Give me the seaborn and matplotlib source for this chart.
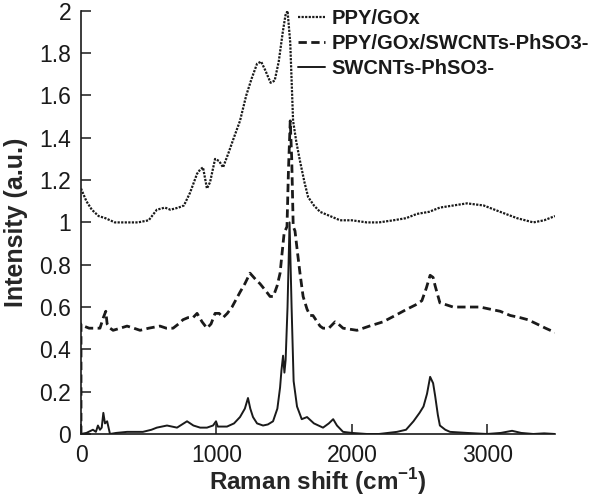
#%%
# Librerías
# -----------------------------------------------------------------------
import pandas as pd
import seaborn as sns
import matplotlib
matplotlib.use("Agg")
import matplotlib.pyplot as plt
from matplotlib.ticker import FuncFormatter

#%%
# Datos leídos del espectro Raman
# -----------------------------------------------------------------------
labels = ["PPY/GOx", "PPY/GOx/SWCNTs-PhSO3-", "SWCNTs-PhSO3-"]

ppy_x = [0, 40, 80, 130, 180, 250, 330, 420, 500, 560,
         620, 660, 720, 760, 805, 857, 880, 901, 930, 953,
         990, 1020, 1049, 1090, 1123, 1174, 1220, 1260, 1300, 1330,
         1360, 1400, 1430, 1460, 1490, 1510, 1525, 1545, 1566, 1590,
         1617, 1650, 1677, 1720, 1765, 1839, 1913, 2000, 2110, 2200,
         2307, 2400, 2480, 2570, 2650, 2750, 2850, 2973, 3095, 3220,
         3340, 3420, 3500]
ppy_y = [1.16, 1.10, 1.06, 1.03, 1.02, 1.00, 1.00, 1.00, 1.01, 1.06,
         1.07, 1.06, 1.07, 1.08, 1.14, 1.23, 1.25, 1.26, 1.16, 1.19,
         1.30, 1.29, 1.26, 1.33, 1.39, 1.48, 1.60, 1.68, 1.75, 1.76,
         1.72, 1.66, 1.67, 1.76, 1.90, 1.98, 2.00, 1.85, 1.48, 1.38,
         1.29, 1.19, 1.12, 1.08, 1.05, 1.03, 1.01, 1.01, 1.00, 1.00,
         1.01, 1.02, 1.04, 1.05, 1.07, 1.08, 1.09, 1.08, 1.05, 1.02,
         1.00, 1.01, 1.03]

mix_x = [0, 0, 20, 60, 100, 140, 165, 183, 193, 215,
         237, 290, 340, 390, 436, 500, 583, 630, 680, 720,
         753, 790, 827, 857, 894, 930, 960, 990, 1020, 1049,
         1080, 1115, 1174, 1210, 1248, 1290, 1322, 1360, 1396, 1420,
         1448, 1470, 1484, 1500, 1521, 1532, 1545, 1556, 1567, 1580,
         1600, 1617, 1640, 1669, 1691, 1713, 1765, 1787, 1830, 1876,
         1900, 1935, 2038, 2130, 2230, 2320, 2407, 2470, 2517, 2550,
         2578, 2600, 2615, 2650, 2700, 2748, 2850, 2947, 3020, 3095,
         3170, 3242, 3300, 3366, 3430, 3500]
mix_y = [0.0, 0.52, 0.51, 0.50, 0.50, 0.50, 0.55, 0.58, 0.52, 0.50,
         0.49, 0.50, 0.51, 0.50, 0.49, 0.50, 0.51, 0.50, 0.50, 0.52,
         0.54, 0.55, 0.55, 0.57, 0.53, 0.50, 0.52, 0.57, 0.57, 0.55,
         0.57, 0.60, 0.67, 0.71, 0.76, 0.73, 0.71, 0.68, 0.65, 0.65,
         0.70, 0.76, 0.85, 0.95, 0.98, 1.25, 1.48, 1.30, 0.98, 0.96,
         0.85, 0.76, 0.65, 0.59, 0.56, 0.56, 0.51, 0.50, 0.50, 0.53,
         0.52, 0.50, 0.49, 0.51, 0.53, 0.56, 0.59, 0.61, 0.63, 0.69,
         0.75, 0.74, 0.70, 0.62, 0.61, 0.60, 0.60, 0.60, 0.59, 0.58,
         0.56, 0.55, 0.54, 0.52, 0.50, 0.48]

swcnt_x = [0, 40, 88, 110, 125, 140, 153, 165, 177, 193,
           214, 260, 340, 400, 457, 520, 560, 635, 709, 783,
           830, 880, 930, 975, 997, 1010, 1078, 1130, 1174, 1210,
           1233, 1250, 1270, 1300, 1344, 1380, 1418, 1450, 1470, 1480,
           1492, 1502, 1511, 1525, 1540, 1555, 1570, 1595, 1630, 1669,
           1720, 1787, 1830, 1862, 1890, 1935, 2000, 2110, 2200, 2333,
           2400, 2455, 2500, 2529, 2555, 2578, 2600, 2615, 2635, 2650,
           2690, 2725, 2850, 2998, 3100, 3183, 3250, 3340, 3420, 3500]
swcnt_y = [0.0, 0.005, 0.02, 0.01, 0.04, 0.02, 0.03, 0.10, 0.05, 0.06,
           0.0, 0.005, 0.01, 0.01, 0.01, 0.02, 0.03, 0.04, 0.03, 0.06,
           0.04, 0.03, 0.03, 0.04, 0.06, 0.035, 0.035, 0.05, 0.08, 0.12,
           0.17, 0.12, 0.08, 0.05, 0.04, 0.045, 0.06, 0.12, 0.22, 0.30,
           0.37, 0.29, 0.35, 0.60, 1.00, 0.60, 0.25, 0.13, 0.07, 0.08,
           0.05, 0.03, 0.05, 0.07, 0.04, 0.01, 0.005, 0.0, 0.0, 0.01,
           0.02, 0.06, 0.10, 0.13, 0.19, 0.27, 0.24, 0.18, 0.09, 0.04,
           0.02, 0.01, 0.005, 0.0, 0.005, 0.015, 0.005, 0.0, 0.003, 0.0]

x_ticks = [0, 1000, 2000, 3000]
y_ticks = [0, 0.2, 0.4, 0.6, 0.8, 1, 1.2, 1.4, 1.6, 1.8, 2]

#%%
# Configuración de estilo
# -----------------------------------------------------------------------
sns.set_style("ticks")
plt.rcParams["font.family"] = ["Liberation Sans", "DejaVu Sans"]
plt.rcParams["xtick.direction"] = "in"
plt.rcParams["ytick.direction"] = "in"

series = [
    (ppy_x, ppy_y, (0, (1, 0.6)), 1.6),
    (mix_x, mix_y, (0, (3, 1.6)), 2.0),
    (swcnt_x, swcnt_y, "-", 1.4),
]

fig = plt.figure(figsize=(6, 4.99), dpi=100)
ax = fig.add_axes([0.135, 0.1303, 0.79, 0.848])

for (xs, ys, ls, lw), lab in zip(series, labels):
    df = pd.DataFrame({"shift": xs, "intensity": ys})
    sns.lineplot(data=df, x="shift", y="intensity", ax=ax, color="#1a1a1a",
                 linestyle=ls, linewidth=lw, estimator=None, sort=False, label=lab)

#%%
# Ejes, etiquetas y leyenda
# -----------------------------------------------------------------------
ax.set_xlim(0, 3500)
ax.set_ylim(0, 2)
ax.set_xticks(x_ticks)
ax.set_yticks(y_ticks)
ax.yaxis.set_major_formatter(FuncFormatter(lambda v, p: f"{v:g}"))
ax.tick_params(axis="both", labelsize=16.5, length=7, width=1.1, pad=7, colors="#1a1a1a")
for side in ["left", "bottom"]:
    ax.spines[side].set_linewidth(1.2)
    ax.spines[side].set_color("#1a1a1a")
sns.despine(ax=ax)

ax.set_xlabel("Raman shift (cm$^{\\mathregular{-1}}$)", fontsize=17.5, fontweight="bold")
ax.set_ylabel("Intensity (a.u.)", fontsize=18, fontweight="bold")
ax.xaxis.set_label_coords(0.5, -0.076)
ax.yaxis.set_label_coords(-0.112, 0.5)

leg = ax.legend(loc="upper left", bbox_to_anchor=(298 / 600, 1 - 9 / 499),
                bbox_transform=fig.transFigure, frameon=False, fontsize=14.5,
                handlelength=1.35, handletextpad=0.3, labelspacing=0.3,
                borderpad=0, borderaxespad=0)
for t in leg.get_texts():
    t.set_fontweight("bold")
    t.set_color("#1a1a1a")

fig.savefig("out.png", dpi=100)
